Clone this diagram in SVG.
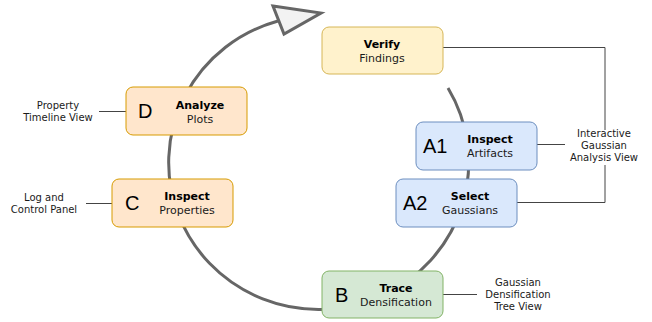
<svg xmlns="http://www.w3.org/2000/svg" width="652" height="322" viewBox="0 0 652 322">
  <style>
    .box { stroke-width: 1; }
    .yellow { fill: #fff2cc; stroke: #d6b656; }
    .blue { fill: #dae8fc; stroke: #6c8ebf; }
    .orange { fill: #ffe6cc; stroke: #d79b00; }
    .green { fill: #d5e8d4; stroke: #82b366; }
    .title { font-family: "DejaVu Sans", Verdana, sans-serif; font-size: 11px; font-weight: bold; fill: #000; text-anchor: middle; }
    .sub { font-family: "DejaVu Sans", Verdana, sans-serif; font-size: 11px; fill: #1a1a1a; text-anchor: middle; }
    .tag { font-family: "Liberation Sans", Arial, sans-serif; font-size: 20px; fill: #000; }
    .note { font-family: "DejaVu Sans", Verdana, sans-serif; font-size: 10px; fill: #1a1a1a; text-anchor: middle; }
    .link { fill: none; stroke: #444; stroke-width: 1; }
    .cycle { fill: none; stroke: #666; stroke-width: 3; }
  </style>

  <!-- workflow cycle -->
  <g id="connectors">
    <path class="cycle" d="M448,88 A150 147 0 1 1 278,21"/>
    <polygon points="273,6 321,13 284,34" fill="#f2f2f2" stroke="#666" stroke-width="3" stroke-linejoin="miter"/>
    <path class="link" d="M443,47.5 H605 V130"/>
    <path class="link" d="M605,165 V202.5 H517"/>
    <path class="link" d="M537,144.5 H565"/>
    <path class="link" d="M126,111.5 H99"/>
    <path class="link" d="M112,203.5 H86"/>
    <path class="link" d="M443,294.5 H477"/>
  </g>

  <g id="verify">
    <rect class="box yellow" x="322" y="27" width="121" height="47" rx="7"/>
    <text class="title" x="382" y="48">Verify</text>
    <text class="sub" x="382" y="62">Findings</text>
  </g>

  <g id="a1">
    <rect class="box blue" x="416" y="122" width="121" height="48" rx="7"/>
    <text class="tag" x="423" y="153">A1</text>
    <text class="title" x="490" y="143">Inspect</text>
    <text class="sub" x="490" y="157">Artifacts</text>
  </g>

  <g id="a2">
    <rect class="box blue" x="396" y="179" width="121" height="48" rx="7"/>
    <text class="tag" x="403" y="210">A2</text>
    <text class="title" x="470" y="200">Select</text>
    <text class="sub" x="470" y="214">Gaussians</text>
  </g>

  <g id="d">
    <rect class="box orange" x="126" y="87" width="121" height="48" rx="7"/>
    <text class="tag" x="138" y="118">D</text>
    <text class="title" x="200" y="109">Analyze</text>
    <text class="sub" x="200" y="123">Plots</text>
  </g>

  <g id="c">
    <rect class="box orange" x="112" y="179" width="121" height="48" rx="7"/>
    <text class="tag" x="125" y="210">C</text>
    <text class="title" x="187" y="200">Inspect</text>
    <text class="sub" x="187" y="214">Properties</text>
  </g>

  <g id="b">
    <rect class="box green" x="322" y="271" width="121" height="47" rx="7"/>
    <text class="tag" x="335" y="302">B</text>
    <text class="title" x="396" y="292">Trace</text>
    <text class="sub" x="396" y="306">Densification</text>
  </g>

  <g id="labels">
    <text class="note" x="604" y="137">Interactive</text>
    <text class="note" x="604" y="149">Gaussian</text>
    <text class="note" x="604" y="161">Analysis View</text>
    <text class="note" x="58" y="109">Property</text>
    <text class="note" x="58" y="121">Timeline View</text>
    <text class="note" x="44" y="201">Log and</text>
    <text class="note" x="44" y="213">Control Panel</text>
    <text class="note" x="518" y="286">Gaussian</text>
    <text class="note" x="518" y="298">Densification</text>
    <text class="note" x="518" y="310">Tree View</text>
  </g>
</svg>
